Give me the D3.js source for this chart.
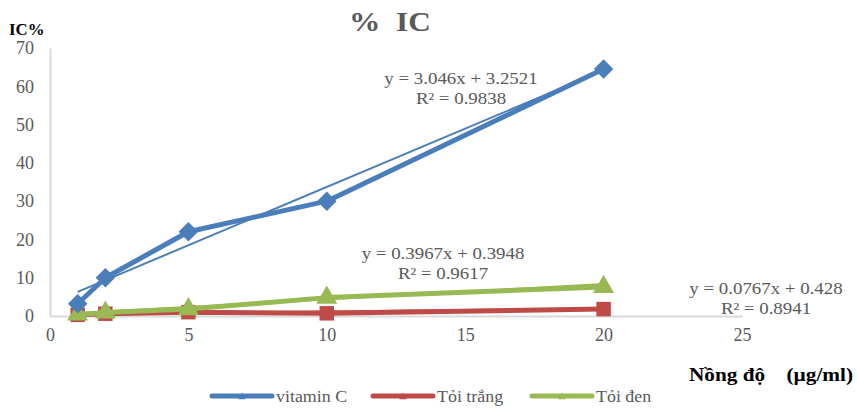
<!DOCTYPE html>
<html>
<head>
<meta charset="utf-8">
<script src="https://cdn.jsdelivr.net/npm/d3@7/dist/d3.min.js"></script>
<style>
  body { margin: 0; background: #fff; }
  text { font-family: "Liberation Serif", "Times New Roman", serif; }
</style>
</head>
<body>
<svg id="chart"></svg>
<script>
// values
const concentrations = [1, 2, 5, 10, 20]
const vitaminC = [3.2, 10, 22, 30, 64.5]
const toiTrang = [0.3, 0.6, 1.0, 0.7, 1.8]
const toiDen = [0.4, 0.9, 1.8, 4.8, 7.6]
const seriesNames = ['vitamin C', 'Tỏi trắng', 'Tỏi đen']
const slopes = [3.046, 0.0767, 0.3967]
const intercepts = [3.2521, 0.428, 0.3948]
const equations = ['y = 3.046x + 3.2521', 'y = 0.0767x + 0.428', 'y = 0.3967x + 0.3948']
const rSquared = ['R² = 0.9838', 'R² = 0.8941', 'R² = 0.9617']
const xTicks = [0, 5, 10, 15, 20, 25]
const yTicks = [0, 10, 20, 30, 40, 50, 60, 70]

const width = 857
const height = 408
const colors = ['#4a7ebb', '#be4b48', '#98b954']
const symbols = [d3.symbolSquare, d3.symbolSquare, d3.symbolTriangle]
const symSizes = [190, 210, 190]
const symRotate = [45, 0, 0]

const svg = d3.select('#chart').attr('width', width).attr('height', height)

const x = d3.scaleLinear().domain([0, 25]).range([50, 742])
const y = d3.scaleLinear().domain([0, 70]).range([316, 48])

// the source picture is a bit stretched sideways, so text is stretched too
const stretched = (px, py, str, size, opts = {}) => {
  const g = svg.append('g').attr('transform', `translate(${px},${py}) scale(${opts.sx || 1.18},1)`)
  return g.append('text')
    .attr('text-anchor', opts.anchor || 'start')
    .attr('fill', opts.fill || '#595959')
    .style('font-size', size + 'px')
    .style('font-weight', opts.bold ? 'bold' : 'normal')
    .attr('xml:space', 'preserve')
    .text(str)
}

// axes, only the axis line and labels like excel
const xAxis = svg.append('g')
  .attr('transform', `translate(0,${y(0)})`)
  .call(d3.axisBottom(x).tickValues(xTicks).tickSize(0).tickPadding(12))
const yAxis = svg.append('g')
  .attr('transform', `translate(${x(0)},0)`)
  .call(d3.axisLeft(y).tickValues(yTicks).tickSize(0).tickPadding(16))

for (const ax of [xAxis, yAxis]) {
  ax.select('.domain').attr('stroke', '#d9d9d9').attr('stroke-width', 2)
  ax.selectAll('text').attr('fill', '#595959').style('font-size', '18px')
    .style('font-family', '"Liberation Serif", serif')
}

// title and axis titles
stretched(390, 31, '%  IC', 28, {anchor: 'middle', bold: true, sx: 1.12})
stretched(9, 35, 'IC%', 16, {fill: '#000', bold: true, sx: 1.05})
stretched(853, 381, 'Nồng độ    (µg/ml)', 19, {anchor: 'end', fill: '#000', bold: true, sx: 1.12})

const allSeries = [vitaminC, toiTrang, toiDen]
const line = d3.line().x((d) => x(d[0])).y((d) => y(d[1]))

// draw order: red, green, blue on top
const order = [1, 2, 0]
order.forEach((i) => {
  const pts = concentrations.map((c, j) => [c, allSeries[i][j]])
  svg.append('path').datum(pts)
    .attr('d', line)
    .attr('fill', 'none')
    .attr('stroke', colors[i])
    .attr('stroke-width', 5)
    .attr('stroke-linejoin', 'round')

  // linear trendline
  const tr = [1, 20].map((c) => [c, slopes[i] * c + intercepts[i]])
  svg.append('path').datum(tr)
    .attr('d', line)
    .attr('fill', 'none')
    .attr('stroke', colors[i])
    .attr('stroke-width', 2)

  svg.selectAll(null).data(pts).join('path')
    .attr('transform', (d) => `translate(${x(d[0])},${y(d[1])}) rotate(${symRotate[i]})`)
    .attr('d', d3.symbol().type(symbols[i]).size(symSizes[i]))
    .attr('fill', colors[i])
})

// trendline labels
const labelPos = [[461, 84], [766, 294], [443, 259]]
labelPos.forEach((p, i) => {
  stretched(p[0], p[1], equations[i], 16, {anchor: 'middle'})
  stretched(p[0], p[1] + 20, rSquared[i], 16, {anchor: 'middle'})
})

// legend
const legendX = [212, 373, 532]
seriesNames.forEach((name, i) => {
  const g = svg.append('g').attr('transform', `translate(${legendX[i]},396)`)
  g.append('line').attr('x1', 0).attr('x2', 60)
    .attr('stroke', colors[i]).attr('stroke-width', 5).attr('stroke-linecap', 'round')
  g.append('path').attr('transform', 'translate(30,1)')
    .attr('d', d3.symbol().type(d3.symbolTriangle).size(25)).attr('fill', colors[i])
  stretched(legendX[i] + 64, 402, name, 16, {sx: 1.12})
})
</script>
</body>
</html>
